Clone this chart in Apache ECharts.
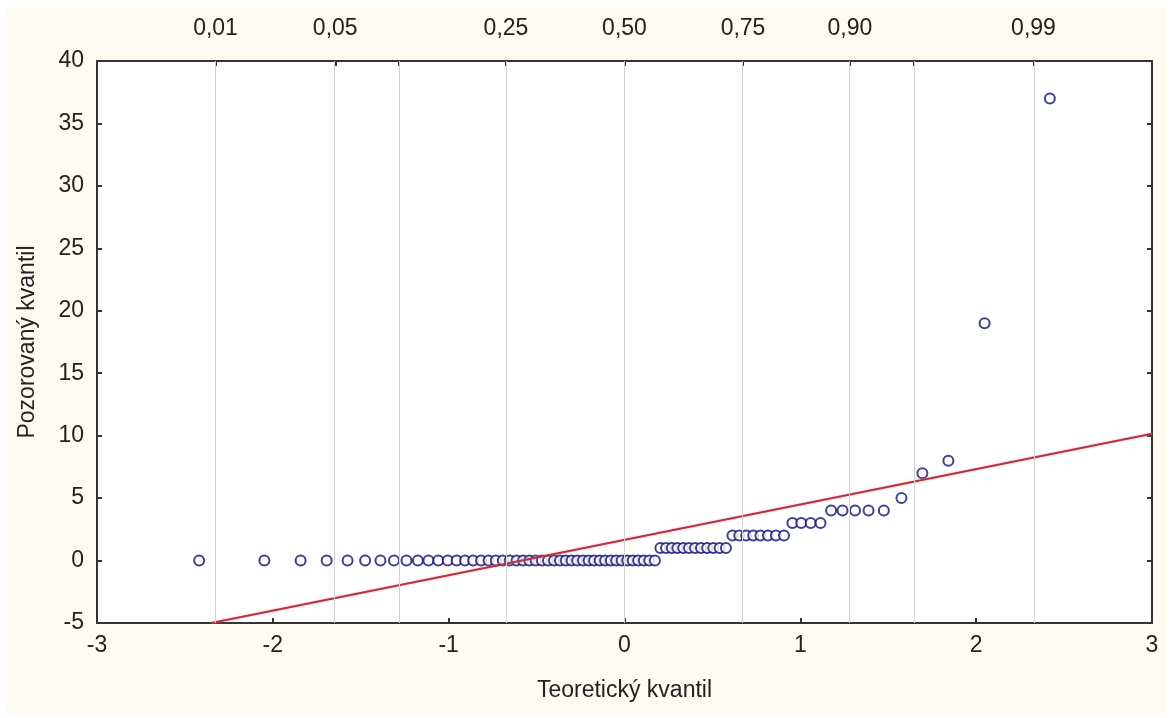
<!DOCTYPE html>
<html><head><meta charset="utf-8">
<script src="https://cdn.jsdelivr.net/npm/echarts@6/dist/echarts.min.js"></script>
<style>html,body{margin:0;padding:0;background:#fff}#c{width:1171px;height:718px}</style>
</head><body><div id="c"></div>
<script>
// Theoretical normal quantiles (x) of the 80 ranked observations
const theoreticalQuantiles = [
 -2.419,-2.048,-1.842,-1.694,-1.575,-1.475,-1.388,-1.311,-1.240,-1.175,
 -1.115,-1.059,-1.005,-0.955,-0.907,-0.861,-0.816,-0.773,-0.732,-0.692,
 -0.653,-0.614,-0.577,-0.541,-0.505,-0.470,-0.435,-0.401,-0.367,-0.334,
 -0.301,-0.269,-0.236,-0.204,-0.173,-0.141,-0.110,-0.078,-0.047,-0.016,
  0.016, 0.047, 0.078, 0.110, 0.141, 0.173, 0.204, 0.236, 0.269, 0.301,
  0.334, 0.367, 0.401, 0.435, 0.470, 0.505, 0.541, 0.577, 0.614, 0.653,
  0.692, 0.732, 0.773, 0.816, 0.861, 0.907, 0.955, 1.005, 1.059, 1.115,
  1.175, 1.240, 1.311, 1.388, 1.475, 1.575, 1.694, 1.842, 2.048, 2.419
];
// Observed values (sorted)
const observedValues = [
 0,0,0,0,0,0,0,0,0,0, 0,0,0,0,0,0,0,0,0,0,
 0,0,0,0,0,0,0,0,0,0, 0,0,0,0,0,0,0,0,0,0,
 0,0,0,0,0,0,1,1,1,1, 1,1,1,1,1,1,1,1,2,2,
 2,2,2,2,2,2,3,3,3,3, 4,4,4,4,4,5,7,8,19,37
];
// Top probability axis
const probLabels = ['0,01','0,05','0,25','0,50','0,75','0,90','0,99'];
const probLabelZ = [-2.326,-1.645,-0.674,0,0.674,1.282,2.326];
const probGridZ = [-2.326,-1.645,-1.282,-0.674,0,0.674,1.282,1.645,2.326];
// Reference line end points
const refLineX = [-2.35, 3];
const refLineY = [-5, 10.15];
// Axis ranges
const xMin = -3, xMax = 3, xStep = 1;
const yMin = -5, yMax = 40, yStep = 5;

const FONT = "'Liberation Sans',Arial,sans-serif";
const chart = echarts.init(document.getElementById('c'), null, {renderer:'canvas'});
const axisLine = {show:true, onZero:false, lineStyle:{color:'#333', width:2}};
const tick = {show:true, inside:true, length:5, lineStyle:{color:'#333', width:2}};
const lbl = {color:'#222', fontSize:23, fontFamily:FONT};

chart.setOption({
  backgroundColor:'#fff',
  animation:false,
  graphic:[{type:'rect', z:-10, silent:true, shape:{x:7, y:8, width:1160, height:705}, style:{fill:'#fdfaf0'}}],
  grid:{left:97, right:19, top:61, bottom:95, show:true, backgroundColor:'#fff', borderWidth:0},
  xAxis:[
    {type:'value', position:'bottom', min:xMin, max:xMax, interval:xStep,
     axisLine, axisTick:tick, splitLine:{show:false},
     axisLabel:Object.assign({margin:11}, lbl),
     name:'Teoretický kvantil', nameLocation:'middle', nameGap:56,
     nameTextStyle:{color:'#222', fontSize:23, fontFamily:FONT}},
    {type:'value', position:'top', min:xMin, max:xMax,
     axisLine, splitLine:{show:false},
     axisTick:Object.assign({customValues:probGridZ}, tick),
     axisLabel:Object.assign({margin:21, customValues:probLabelZ,
       formatter:(v)=>{const i=probLabelZ.findIndex(z=>Math.abs(z-v)<1e-6);return i>=0?probLabels[i]:'';}}, lbl)}
  ],
  yAxis:[
    {type:'value', position:'left', min:yMin, max:yMax, interval:yStep,
     axisLine, axisTick:tick, splitLine:{show:false},
     axisLabel:Object.assign({margin:13}, lbl),
     name:'Pozorovaný kvantil', nameLocation:'middle', nameGap:58, nameRotate:90,
     nameTextStyle:{color:'#222', fontSize:23, fontFamily:FONT}},
    {type:'value', position:'right', min:yMin, max:yMax, interval:yStep,
     axisLine, axisTick:tick, splitLine:{show:false}, axisLabel:{show:false}}
  ],
  series:[
    {type:'scatter', xAxisIndex:0, yAxisIndex:0, z:3,
     data:theoreticalQuantiles.map((x,i)=>[x, observedValues[i]]),
     symbol:'emptyCircle', symbolSize:10,
     itemStyle:{color:'#101070', borderColor:'#101070', borderWidth:2.5},
     markLine:{silent:true, symbol:'none', label:{show:false},
       lineStyle:{color:'#d2d2d2', width:1, type:'solid'},
       data:probGridZ.map(z=>({xAxis:z}))}},
    {type:'line', xAxisIndex:0, yAxisIndex:0, z:4,
     data:refLineX.map((x,i)=>[x, refLineY[i]]),
     symbol:'none', lineStyle:{color:'#b03545', width:2, shadowColor:'rgba(240,140,150,0.6)', shadowBlur:3}}
  ]
});
</script></body></html>
